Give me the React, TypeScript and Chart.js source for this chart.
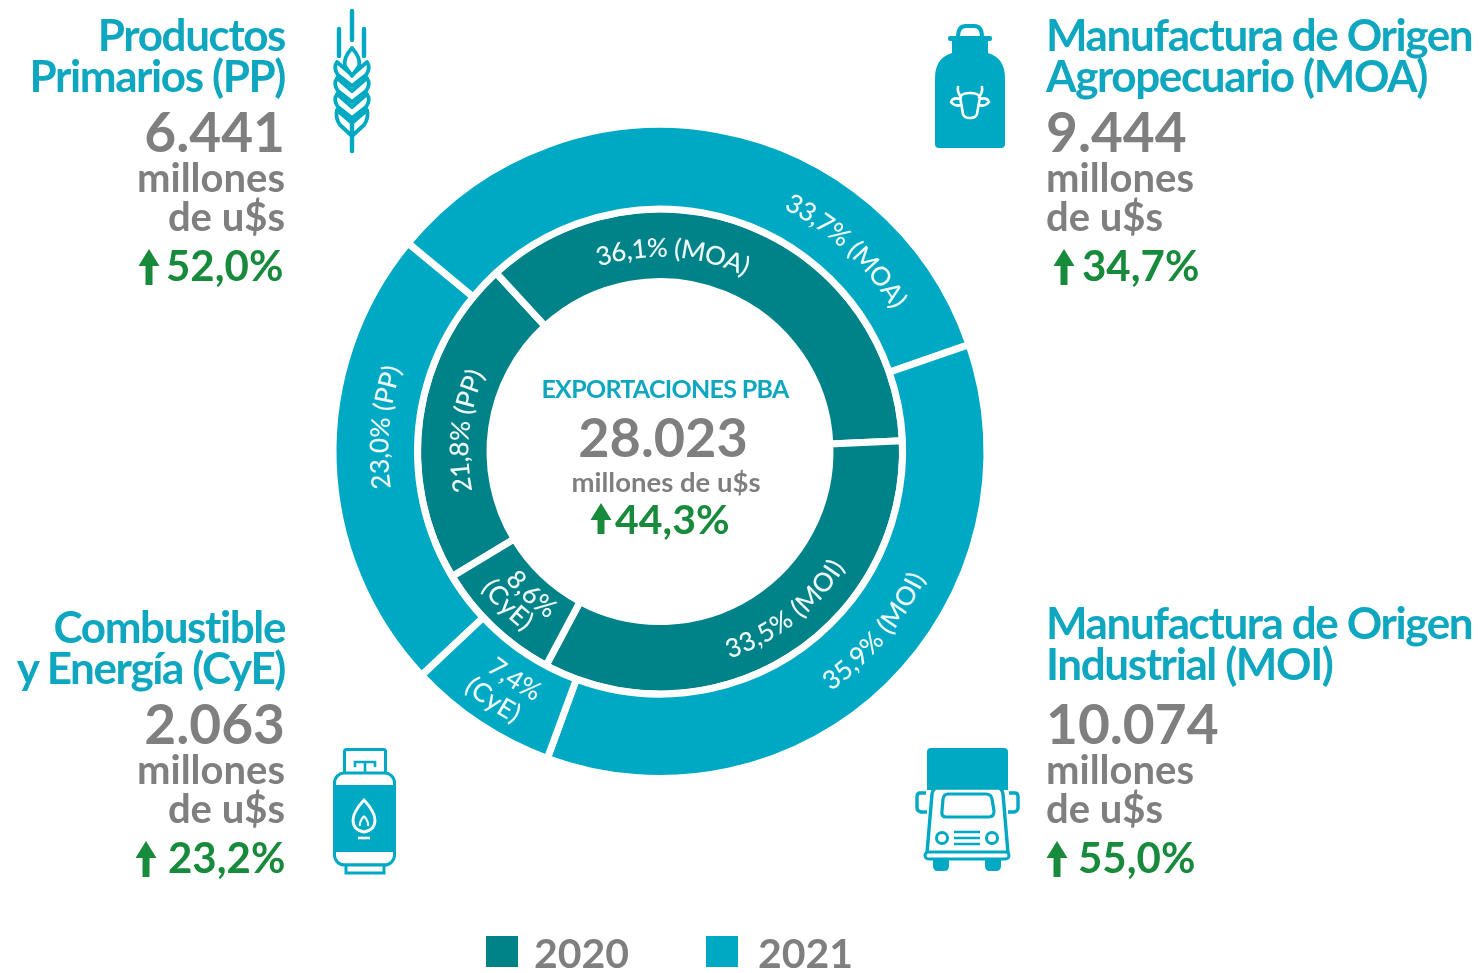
import React, { useEffect, useRef } from "react";
import { Chart, registerables } from "chart.js";

Chart.register(...registerables);

const CATEGORIES = ["PP", "MOA", "MOI", "CyE"];
const VALUES_2020 = [21.8, 36.1, 33.5, 8.6];
const VALUES_2021 = [23.0, 33.7, 35.9, 7.4];
const YEARS = ["2020", "2021"];
const LABELS_2020 = ["21,8% (PP)", "36,1% (MOA)", "33,5% (MOI)", "8,6%|(CyE)"];
const LABELS_2021 = ["23,0% (PP)", "33,7% (MOA)", "35,9% (MOI)", "7,4%|(CyE)"];

const TEAL_DARK = "#008289";
const TEAL = "#00a9c3";
const TITLE = "#0fa7c0";
const GREY = "#7f7f7f";
const GREEN = "#188a3c";
const FONT = "Lato, sans-serif";

// centre of the ring and radii in page pixels
const CX = 660;
const CY = 451.5;
const BORDER = 7;
const R_OUT = 327;
const R_BOX = R_OUT + BORDER / 2;
const R_MID = 242.5;
const R_IN = 170;

// label placement: [dataset (0 = outer ring), index, line, angle (deg clockwise from top), radius, tops outward]
const LABEL_PLACES: [number, number, number, number, number, boolean][] = [
  [1, 0, 0, 276, 200, true],
  [1, 1, 0, 3.7, 203, true],
  [1, 2, 0, 141.7, 210, false],
  [1, 3, 0, 222, 193, false],
  [1, 3, 1, 225, 217, false],
  [0, 0, 0, 275, 280, true],
  [0, 1, 0, 42.8, 281, true],
  [0, 2, 0, 130, 286, false],
  [0, 3, 0, 212.5, 271, false],
  [0, 3, 1, 214, 300, false],
];

const ringLabels = {
  id: "ringLabels",
  afterDatasetsDraw(chart: any) {
    const ctx = chart.ctx;
    const texts = [LABELS_2021, LABELS_2020];
    ctx.save();
    ctx.fillStyle = "#eef9fa";
    ctx.font = `500 26px ${FONT}`;
    ctx.textAlign = "center";
    ctx.textBaseline = "middle";
    for (const [d, i, line, deg, r, outward] of LABEL_PLACES) {
      const arc = chart.getDatasetMeta(d).data[i];
      const text = texts[d][i].split("|")[line];
      const mid = (deg * Math.PI) / 180;
      const total = ctx.measureText(text).width;
      let pos = 0;
      for (const ch of text) {
        const w = ctx.measureText(ch).width;
        const off = (pos + w / 2 - total / 2) / r;
        const a = outward ? mid + off : mid - off;
        ctx.save();
        ctx.translate(arc.x + r * Math.sin(a), arc.y - r * Math.cos(a));
        ctx.rotate(outward ? a : a + Math.PI);
        ctx.fillText(ch, 0, 0);
        ctx.restore();
        pos += w;
      }
    }
    ctx.restore();
  },
};

type T = { x: number; y: number; s: string; size: number; c: string; w?: number; a?: string; ls?: number };

const BLOCK = (x: number, a: string, title: [string, string], num: string, pct: string, top: number, numTop: number, pctX: number): T[] => [
  { x, y: top, s: title[0], size: 44, c: TITLE, w: 700, a, ls: -1.4 },
  { x, y: top + 41, s: title[1], size: 44, c: TITLE, w: 700, a, ls: -1.4 },
  { x, y: numTop, s: num, size: 55, c: GREY, w: 700, a },
  { x, y: numTop + 40, s: "millones", size: 40, c: GREY, w: 700, a },
  { x, y: numTop + 79, s: "de u$s", size: 40, c: GREY, w: 700, a },
  { x: pctX, y: numTop + 129, s: pct, size: 42, c: GREEN, w: 700, a: "start" },
];

const TEXTS: T[] = [
  ...BLOCK(285, "end", ["Productos", "Primarios (PP)"], "6.441", "52,0%", 51, 152, 166),
  ...BLOCK(1046, "start", ["Manufactura de Origen", "Agropecuario (MOA)"], "9.444", "34,7%", 51, 152, 1082),
  ...BLOCK(285, "end", ["Combustible", "y Energía (CyE)"], "2.063", "23,2%", 643, 744, 168),
  ...BLOCK(1046, "start", ["Manufactura de Origen", "Industrial (MOI)"], "10.074", "55,0%", 639, 744, 1078),
  { x: 665, y: 398, s: "EXPORTACIONES PBA", size: 25, c: TITLE, w: 700, a: "middle", ls: -0.7 },
  { x: 663, y: 457, s: "28.023", size: 54, c: GREY, w: 700, a: "middle" },
  { x: 666, y: 492, s: "millones de u$s", size: 27.5, c: GREY, w: 700, a: "middle" },
  { x: 615, y: 534, s: "44,3%", size: 41, c: GREEN, w: 700, a: "start" },
];

const ARROWS: [number, number, number][] = [
  [149, 285, 36],
  [1064, 285, 36],
  [146, 877, 36],
  [1057, 877, 36],
  [601, 534, 31],
];

const Arrow = ({ x, y, h }: { x: number; y: number; h: number }) => (
  <path d={`M${x} ${y - h} L${x + 10.5} ${y - h + 17} L${x + 3.5} ${y - h + 17} L${x + 3.5} ${y} L${x - 3.5} ${y} L${x - 3.5} ${y - h + 17} L${x - 10.5} ${y - h + 17} Z`} fill={GREEN} />
);

const Wheat = () => (
  <g fill="none" stroke={TEAL} strokeWidth={3.8} strokeLinecap="round" strokeLinejoin="round">
    <path d="M352 11 V40 M352 118 V151" strokeWidth={4.4} />
    <path d="M339 29 V56 M364 29 V56" strokeWidth={4.4} />
    <path d="M352 48 Q343 58 345 66 L352 76 L359 66 Q361 58 352 48Z" />
    {[62, 78, 94].map((y) => (
      <path key={y} d={`M352 ${y + 24} L338 ${y + 13} Q333 ${y + 6} 337 ${y} L352 ${y + 13} L367 ${y} Q371 ${y + 6} 366 ${y + 13} Z`} />
    ))}
    <path d="M352 136 L340 125 Q335 118 337 110 L352 123 L367 110 Q369 118 364 125 Z" />
  </g>
);

const MilkCan = () => (
  <g>
    <path d="M958 37 Q958 26 966 26 H974 Q982 26 982 37" fill="none" stroke={TEAL} strokeWidth={4} />
    <rect x="948" y="36" width="44" height="5" rx="2" fill={TEAL} />
    <path d="M952 41 H988 V53 Q1005 58 1005 78 V144 Q1005 148 1001 148 H939 Q935 148 935 144 V78 Q935 58 952 53 Z" fill={TEAL} />
    <g fill="none" stroke="#fff" strokeWidth={2.6} strokeLinejoin="round" strokeLinecap="round">
      <path d="M960 97 Q962 93 970 93 Q978 93 980 97 L977 114 Q976 118 970 118 Q964 118 963 114 Z" />
      <path d="M961 97 Q957 92 958 87 M979 97 Q983 92 982 87" />
      <path d="M960 99 Q953 97 951 102 Q955 107 961 105 M980 99 Q987 97 989 102 Q985 107 979 105" />
    </g>
  </g>
);

const Gas = () => (
  <g>
    <rect x="344.5" y="749.5" width="41" height="24" rx="2" fill="none" stroke={TEAL} strokeWidth={3} />
    <path d="M355 767 V762 H375 V767 M365 762 V772" fill="none" stroke={TEAL} strokeWidth={2.6} />
    <rect x="334.5" y="773" width="60" height="92" rx="10" fill="#fff" stroke={TEAL} strokeWidth={3} />
    <rect x="333" y="785" width="63" height="67" fill={TEAL} />
    <rect x="346" y="865" width="38" height="8" fill="#fff" stroke={TEAL} strokeWidth={3} />
    <path d="M364 800 Q353 812 353 820 Q353 830 364 832 Q375 830 375 820 Q375 812 364 800 Z" fill="none" stroke="#fff" strokeWidth={2.8} />
    <path d="M364 816 Q359 822 360 826 M364 816 Q369 822 368 826" fill="none" stroke="#fff" strokeWidth={2} />
    <path d="M358 838 H370" stroke="#fff" strokeWidth={2.6} />
  </g>
);

const Truck = () => (
  <g>
    <path d="M927 752 Q927 748 931 748 H1004 Q1008 748 1008 752 V790 H927 Z" fill={TEAL} />
    <path d="M937 788 H998 Q1002 788 1003 794 L1008 853 H927 L932 794 Q933 788 937 788 Z" fill="#fff" stroke={TEAL} strokeWidth={3.4} />
    <path d="M926 793 H920 Q917 793 917 797 V808 Q917 811 921 812 L927 812 M1009 793 H1015 Q1018 793 1018 797 V808 Q1018 811 1014 812 L1008 812" fill="none" stroke={TEAL} strokeWidth={3.4} />
    <path d="M948 794 H986 Q991 794 992 799 L994 811 Q994 817 989 817 H946 Q941 817 942 811 L943 799 Q944 794 948 794 Z" fill="none" stroke={TEAL} strokeWidth={3.2} />
    <circle cx="942" cy="838" r="5.5" fill="none" stroke={TEAL} strokeWidth={3} />
    <circle cx="992" cy="838" r="5.5" fill="none" stroke={TEAL} strokeWidth={3} />
    <path d="M954 832 H980 M954 838 H980 M954 844 H980" stroke={TEAL} strokeWidth={2.6} />
    <rect x="925" y="852" width="84" height="7" rx="3.5" fill="#fff" stroke={TEAL} strokeWidth={3} />
    <path d="M933 860 H949 V866 Q949 871 944 871 H938 Q933 871 933 866 Z M985 860 H1001 V866 Q1001 871 996 871 H990 Q985 871 985 866 Z" fill={TEAL} />
  </g>
);

const LEGEND: [number, number, string, string][] = [
  [486, 534, TEAL_DARK, YEARS[0]],
  [706, 758, TEAL, YEARS[1]],
];

export default function App() {
  const ref = useRef<HTMLCanvasElement>(null);
  useEffect(() => {
    const chart = new Chart(ref.current as HTMLCanvasElement, {
      type: "doughnut",
      data: {
        labels: CATEGORIES,
        datasets: [
          { label: YEARS[1], data: VALUES_2021, backgroundColor: TEAL, rotation: 226.8, weight: R_OUT - R_MID, borderColor: "#fff", borderWidth: BORDER },
          { label: YEARS[0], data: VALUES_2020, backgroundColor: TEAL_DARK, rotation: 239, weight: R_MID - R_IN, borderColor: "#fff", borderWidth: BORDER },
        ] as any,
      },
      options: {
        animation: false,
        responsive: false,
        cutout: R_IN,
        layout: { padding: { left: CX - R_BOX, right: 1480 - CX - R_BOX, top: CY - R_BOX, bottom: 973 - CY - R_BOX } },
        plugins: { legend: { display: false }, tooltip: { enabled: false } },
      } as any,
      plugins: [ringLabels],
    });
    return () => chart.destroy();
  }, []);

  return (
    <div style={{ position: "absolute", left: 0, top: 0, width: 1480, height: 973, background: "#fff", overflow: "hidden" }}>
      <canvas ref={ref} width={1480} height={973} style={{ position: "absolute", left: 0, top: 0, width: 1480, height: 973 }} />
      <svg width={1480} height={973} style={{ position: "absolute", left: 0, top: 0 }}>
        <Wheat />
        <MilkCan />
        <Gas />
        <Truck />
        {ARROWS.map(([x, y, h]) => (
          <Arrow key={x} x={x} y={y} h={h} />
        ))}
        {TEXTS.map((t, i) => (
          <text key={i} x={t.x} y={t.y} fontFamily={FONT} fontSize={t.size} fontWeight={t.w} fill={t.c} textAnchor={t.a} letterSpacing={t.ls}>
            {t.s}
          </text>
        ))}
        {LEGEND.map(([bx, tx, color, s]) => (
          <g key={s}>
            <rect x={bx} y={936} width={32} height={31} fill={color} />
            <text x={tx} y={968} fontFamily={FONT} fontSize={41} fontWeight={700} fill={GREY}>
              {s}
            </text>
          </g>
        ))}
      </svg>
    </div>
  );
}
